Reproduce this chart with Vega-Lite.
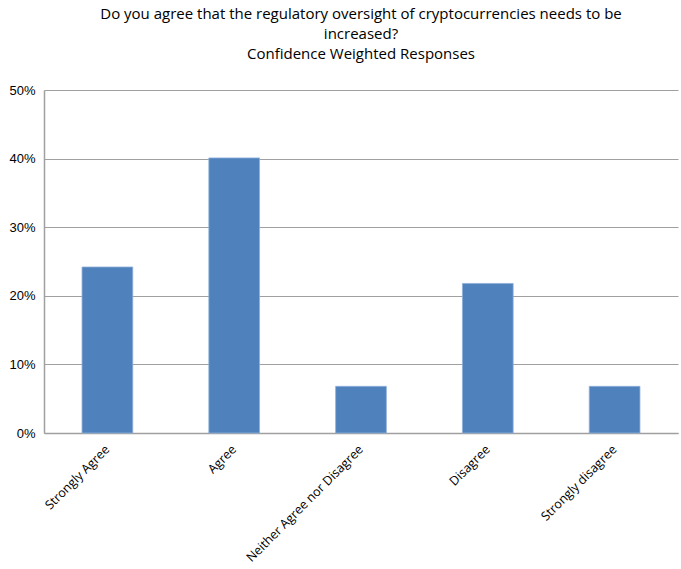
{
  "$schema": "https://vega.github.io/schema/vega-lite/v6.json",
  "autosize": {"type": "none"},
  "width": 634,
  "height": 343,
  "padding": {"left": 44, "top": 90, "right": 3, "bottom": 136},
  "background": "white",
  "title": {
    "text": ["Do you agree that the regulatory oversight of cryptocurrencies needs to be", "increased?", "Confidence Weighted Responses"],
    "fontSize": 15,
    "font": "Open Sans",
    "fontWeight": "normal",
    "color": "#000000",
    "lineHeight": 20,
    "anchor": "middle",
    "offset": 22
  },
  "data": {
    "values": [
      {"response": "Strongly Agree", "share": 0.242},
      {"response": "Agree", "share": 0.401},
      {"response": "Neither Agree nor Disagree", "share": 0.068},
      {"response": "Disagree", "share": 0.218},
      {"response": "Strongly disagree", "share": 0.068}
    ]
  },
  "mark": {"type": "bar", "color": "#4f81bd", "stroke": "#8eb0da", "strokeWidth": 0.8},
  "encoding": {
    "x": {
      "field": "response",
      "type": "nominal",
      "sort": null,
      "scale": {"paddingInner": 0.6, "paddingOuter": 0.3},
      "axis": {
        "title": null,
        "labelAngle": -45,
        "labelAlign": "right",
        "labelBaseline": "middle",
        "labelFont": "Open Sans",
        "labelFontSize": 12.5,
        "labelColor": "#000000",
        "labelPadding": 14,
        "ticks": false,
        "domainColor": "#a0a0a0",
        "domainWidth": 1.5,
        "grid": false
      }
    },
    "y": {
      "field": "share",
      "type": "quantitative",
      "scale": {"domain": [0, 0.5], "nice": false},
      "axis": {
        "title": null,
        "format": ".0%",
        "values": [0, 0.1, 0.2, 0.3, 0.4, 0.5],
        "labelFont": "Liberation Sans",
        "labelFontSize": 13,
        "labelColor": "#000000",
        "labelPadding": 9,
        "ticks": false,
        "domainColor": "#a0a0a0",
        "domainWidth": 1.5,
        "gridColor": "#a0a0a0",
        "gridWidth": 1.2
      }
    }
  },
  "config": {"view": {"stroke": null}}
}
